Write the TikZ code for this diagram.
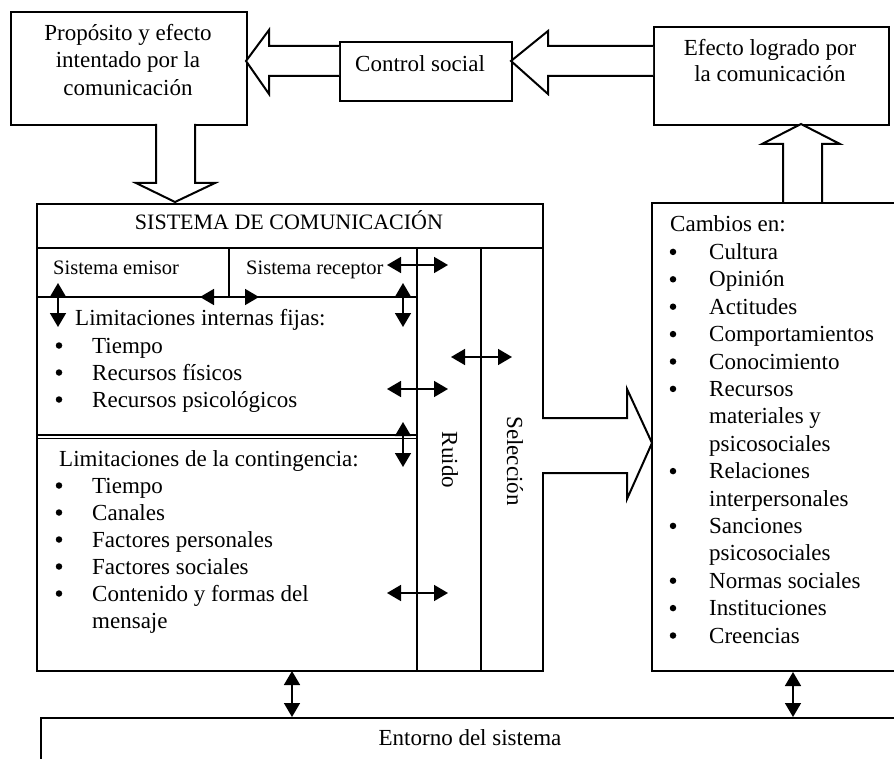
\documentclass[tikz,border=0pt]{standalone}
\usepackage{fontspec}
\setmainfont{Liberation Serif}
\usetikzlibrary{arrows.meta}
\begin{document}
\begin{tikzpicture}[x=1pt,y=-1pt,
  box/.style={draw, line width=2pt, inner sep=0pt, anchor=north west},
  txt/.style={font=\fontsize{23}{27}\selectfont, inner sep=0pt},
  ltx/.style={txt, anchor=base west},
  ctx/.style={txt, anchor=base},
  bul/.style={circle, fill=black, inner sep=0pt, minimum size=6.5pt},
  blk/.style={draw, line width=2pt, fill=white, line join=miter},
  sep/.style={draw, line width=2pt},
  dbl/.style={line width=1.6pt, {Triangle[length=14pt,width=16pt]}-{Triangle[length=14pt,width=16pt]}}
]
\useasboundingbox (0,0) rectangle (894,759);

% ---- top boxes
\node[box, minimum width=236pt, minimum height=113pt] (prop) at (10,11) {};
\node[box, minimum width=172pt, minimum height=59pt] (ctrl) at (339,41) {};
\node[box, minimum width=235pt, minimum height=98pt] (efec) at (653,26) {};

\node[ctx] (p1) at (128,41) {Propósito y efecto};
\node[ctx] (p2) at (128,68) {intentado por la};
\node[ctx] (p3) at (128,96) {comunicación};
\node[ltx] (c1) at (355,72) {Control social};
\node[ctx] (e1) at (770,56) {Efecto logrado por};
\node[ctx] (e2) at (770,82) {la comunicación};

% ---- block arrows
\draw[blk] (339,46) -- (269,46) -- (269,30) -- (246,61) -- (269,94) -- (269,76) -- (339,76);
\draw[blk] (653,46) -- (548,46) -- (548,31) -- (511,61) -- (548,94) -- (548,76) -- (653,76);
\draw[blk] (156,124) -- (156,183) -- (136,183) -- (175,202) -- (215,183) -- (195,183) -- (195,124);
\draw[blk] (783,203) -- (783,144) -- (762,144) -- (801,124) -- (840,144) -- (822,144) -- (822,203);

% ---- sistema de comunicacion
\node[box, minimum width=506pt, minimum height=467pt] (sis) at (36,203) {};
\draw[sep] (36,248) -- (542,248);
\draw[sep] (417,248) -- (417,670);
\draw[sep] (481,248) -- (481,670);
\draw[sep] (36,297) -- (417,297);
\draw[line width=2.7pt] (229,248) -- (229,297);
\draw[line width=1.1pt] (36,435) -- (417,435);
\draw[line width=1.1pt] (36,438.5) -- (417,438.5);

\node[txt, font=\fontsize{22}{26}\selectfont, anchor=base] (sist) at (289,230) {SISTEMA DE COMUNICACIÓN};
\node[ltx, font=\fontsize{20.5}{24}\selectfont] (emi) at (53,275) {Sistema emisor};
\node[ltx, font=\fontsize{20.5}{24}\selectfont] (rec) at (246,275) {Sistema receptor};

\node[ltx] (li0) at (75,326) {Limitaciones internas fijas:};
\foreach \y/\t [count=\i] in {353/Tiempo, 380/Recursos físicos, 407/Recursos psicológicos}{
  \node[bul] (lib\i) at (59,\y-7.5) {};
  \node[ltx] (lit\i) at (92,\y) {\t};
}
\node[ltx] (lc0) at (59,466) {Limitaciones de la contingencia:};
\foreach \y/\t [count=\i] in {493/Tiempo, 520/Canales, 547/Factores personales, 574/Factores sociales, 601/Contenido y formas del}{
  \node[bul] (lcb\i) at (59,\y-7.5) {};
  \node[ltx] (lct\i) at (92,\y) {\t};
}
\node[ltx] (lct6) at (92,628) {mensaje};

\node[txt, rotate=-90] (ruido) at (450,460) {Ruido};
\node[txt, rotate=-90] (selec) at (515,461) {Selección};

% ---- small double arrows
\coordinate (a1l) at (387,265); \coordinate (a1r) at (448,265);
\coordinate (a2t) at (58,283);  \coordinate (a2b) at (58,327);
\coordinate (a3l) at (200,297); \coordinate (a3r) at (259,297);
\coordinate (a4t) at (403,283); \coordinate (a4b) at (403,327);
\coordinate (a5l) at (451,357); \coordinate (a5r) at (512,357);
\coordinate (a6l) at (387,389); \coordinate (a6r) at (448,389);
\coordinate (a7t) at (403,422); \coordinate (a7b) at (403,467);
\coordinate (a8l) at (387,593); \coordinate (a8r) at (448,593);
\draw[dbl] (a1l) -- (a1r);
\draw[dbl] (a2t) -- (a2b);
\draw[dbl] (a3l) -- (a3r);
\draw[dbl] (a4t) -- (a4b);
\draw[dbl] (a5l) -- (a5r);
\draw[dbl] (a6l) -- (a6r);
\draw[dbl] (a7t) -- (a7b);
\draw[dbl] (a8l) -- (a8r);

% ---- big arrow to the right box
\draw[blk] (542,418) -- (627,418) -- (627,389) -- (652,443) -- (627,499) -- (627,473) -- (542,473);

% ---- right box (cambios)
\coordinate (rtr) at (894,203);
\coordinate (rtl) at (652,203);
\coordinate (rbl) at (652,671);
\coordinate (rbr) at (894,671);
\draw[sep] (rtr) -- (rtl) -- (rbl) -- (rbr);
\node[ltx] (cam) at (670,232) {Cambios en:};
\foreach \t [count=\i] in {Cultura, Opinión, Actitudes, Comportamientos, Conocimiento, Recursos, materiales y, psicosociales, Relaciones, interpersonales, Sanciones, psicosociales, Normas sociales, Instituciones, Creencias}{
  \node[ltx] (ct\i) at (709,{232+27.4*\i}) {\t};
}
\foreach \i in {1,2,3,4,5,6,9,11,13,14,15}{
  \node[bul] (cb\i) at (673,{232+27.4*\i-7.5}) {};
}

% ---- entorno
\coordinate (ebl) at (41,760);
\coordinate (etl) at (41,718);
\coordinate (etr) at (894,718);
\draw[sep] (ebl) -- (etl) -- (etr);
\node[ctx] (ent) at (470,745) {Entorno del sistema};

% ---- vertical arrows to entorno
\coordinate (v1t) at (292,671); \coordinate (v1b) at (292,717);
\coordinate (v2t) at (793,672); \coordinate (v2b) at (793,717);
\draw[dbl] (v1t) -- (v1b);
\draw[dbl] (v2t) -- (v2b);
\end{tikzpicture}
\end{document}
